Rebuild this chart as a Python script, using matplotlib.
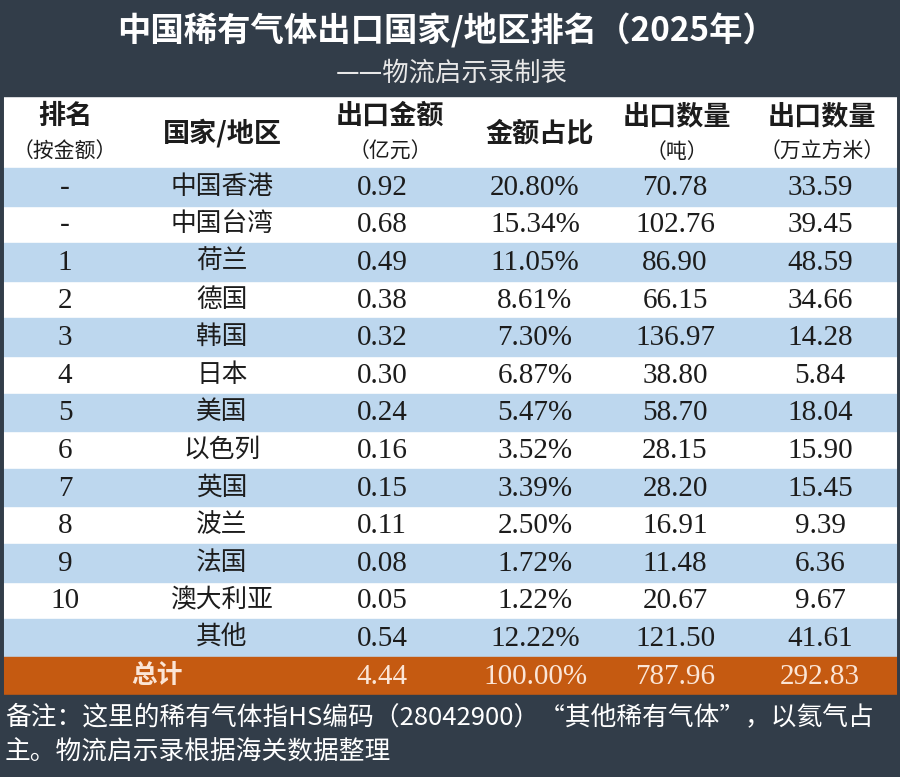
import matplotlib
matplotlib.use('Agg')
import matplotlib.pyplot as plt
from matplotlib.patches import Rectangle

plt.rcParams['font.family'] = ['Noto Sans CJK SC', 'DejaVu Sans']

# 数据
title = '中国稀有气体出口国家/地区排名（2025年）'
subtitle = '——物流启示录制表'
headers = ['排名', '国家/地区', '出口金额', '金额占比', '出口数量', '出口数量']
sub_headers = ['（按金额）', '', '（亿元）', '', '（吨）', '（万立方米）']
ranks = ['-', '-', '1', '2', '3', '4', '5', '6', '7', '8', '9', '10', '']
regions = ['中国香港', '中国台湾', '荷兰', '德国', '韩国', '日本', '美国',
           '以色列', '英国', '波兰', '法国', '澳大利亚', '其他']
amounts = ['0.92', '0.68', '0.49', '0.38', '0.32', '0.30', '0.24',
           '0.16', '0.15', '0.11', '0.08', '0.05', '0.54']
shares = ['20.80%', '15.34%', '11.05%', '8.61%', '7.30%', '6.87%', '5.47%',
          '3.52%', '3.39%', '2.50%', '1.72%', '1.22%', '12.22%']
tons = ['70.78', '102.76', '86.90', '66.15', '136.97', '38.80', '58.70',
        '28.15', '28.20', '16.91', '11.48', '20.67', '121.50']
volumes = ['33.59', '39.45', '48.59', '34.66', '14.28', '5.84', '18.04',
           '15.90', '15.45', '9.39', '6.36', '9.67', '41.61']
total_row = ['', '总计', '4.44', '100.00%', '787.96', '292.83']
notes = ['备注：这里的稀有气体指HS编码（28042900）“其他稀有气体”，以氦气占',
         '主。物流启示录根据海关数据整理']

# 样式
DARK = '#323d49'
BLUE = '#bdd7ee'
ORANGE = '#c55a11'
TEXT = '#1c1c1c'
col_x = [65, 222, 382, 535, 675, 820]
head_x = [65, 222, 390, 540, 677, 822]
row_top = 168
row_h = 37.6
serif = ['Liberation Serif', 'Noto Sans CJK SC']

fig = plt.figure(figsize=(9, 7.77), dpi=100)
ax = fig.add_axes([0, 0, 1, 1])
ax.set_xlim(0, 900)
ax.set_ylim(777, 0)
ax.axis('off')
fig.patch.set_facecolor('white')

# 标题区
ax.add_patch(Rectangle((0, 0), 900, 96, color=DARK, zorder=0))
ax.text(447, 31, title, ha='center', va='center', fontsize=24,
        fontweight='bold', color='white')
ax.text(452, 73, subtitle, ha='center', va='center', fontsize=19,
        color='#e8e8e8')

# 表头
for x, h, s in zip(head_x, headers, sub_headers):
    if s:
        ax.text(x, 116, h, ha='center', va='center', fontsize=19.5,
                fontweight='bold', color=TEXT)
        ax.text(x, 152, s, ha='center', va='center', fontsize=15, color=TEXT)
    else:
        ax.text(x, 133, h, ha='center', va='center', fontsize=19.5,
                fontweight='bold', color=TEXT)

# 数据行
for i in range(len(regions)):
    y0 = row_top + i * row_h
    if i % 2 == 0:
        ax.add_patch(Rectangle((0, y0), 900, row_h, color=BLUE, zorder=0))
    yc = y0 + row_h / 2
    cells = [ranks[i], regions[i], amounts[i], shares[i], tons[i], volumes[i]]
    for j, (x, c) in enumerate(zip(col_x, cells)):
        if j == 1:
            ax.text(x, yc, c, ha='center', va='center', fontsize=18.5, color=TEXT)
        else:
            ax.text(x, yc + 1, c, ha='center', va='center', fontsize=21,
                    family=serif, color=TEXT)

# 总计行
y0 = row_top + len(regions) * row_h
ax.add_patch(Rectangle((0, y0), 900, row_h + 1, color=ORANGE, zorder=0))
yc = y0 + row_h / 2
for j, (x, c) in enumerate(zip(col_x, total_row)):
    if not c:
        continue
    if j == 1:
        ax.text(x - 65, yc, c, ha='center', va='center', fontsize=18.5,
                fontweight='bold', color='#fbe5d6')
    else:
        ax.text(x, yc + 1, c, ha='center', va='center', fontsize=21,
                family=serif, color='#fbe5d6')

# 备注
foot_top = y0 + row_h + 1
ax.add_patch(Rectangle((0, foot_top), 900, 777 - foot_top, color=DARK, zorder=0))
ax.text(5, foot_top + 22, notes[0], ha='left', va='center', fontsize=18.5,
        color='white')
ax.text(5, foot_top + 57, notes[1], ha='left', va='center', fontsize=18.5,
        color='white')

# 边框
ax.add_patch(Rectangle((0, 0), 900, 777, fill=False, edgecolor=DARK,
                       linewidth=5, zorder=5))

fig.savefig('out.png', dpi=100, facecolor=fig.get_facecolor())
